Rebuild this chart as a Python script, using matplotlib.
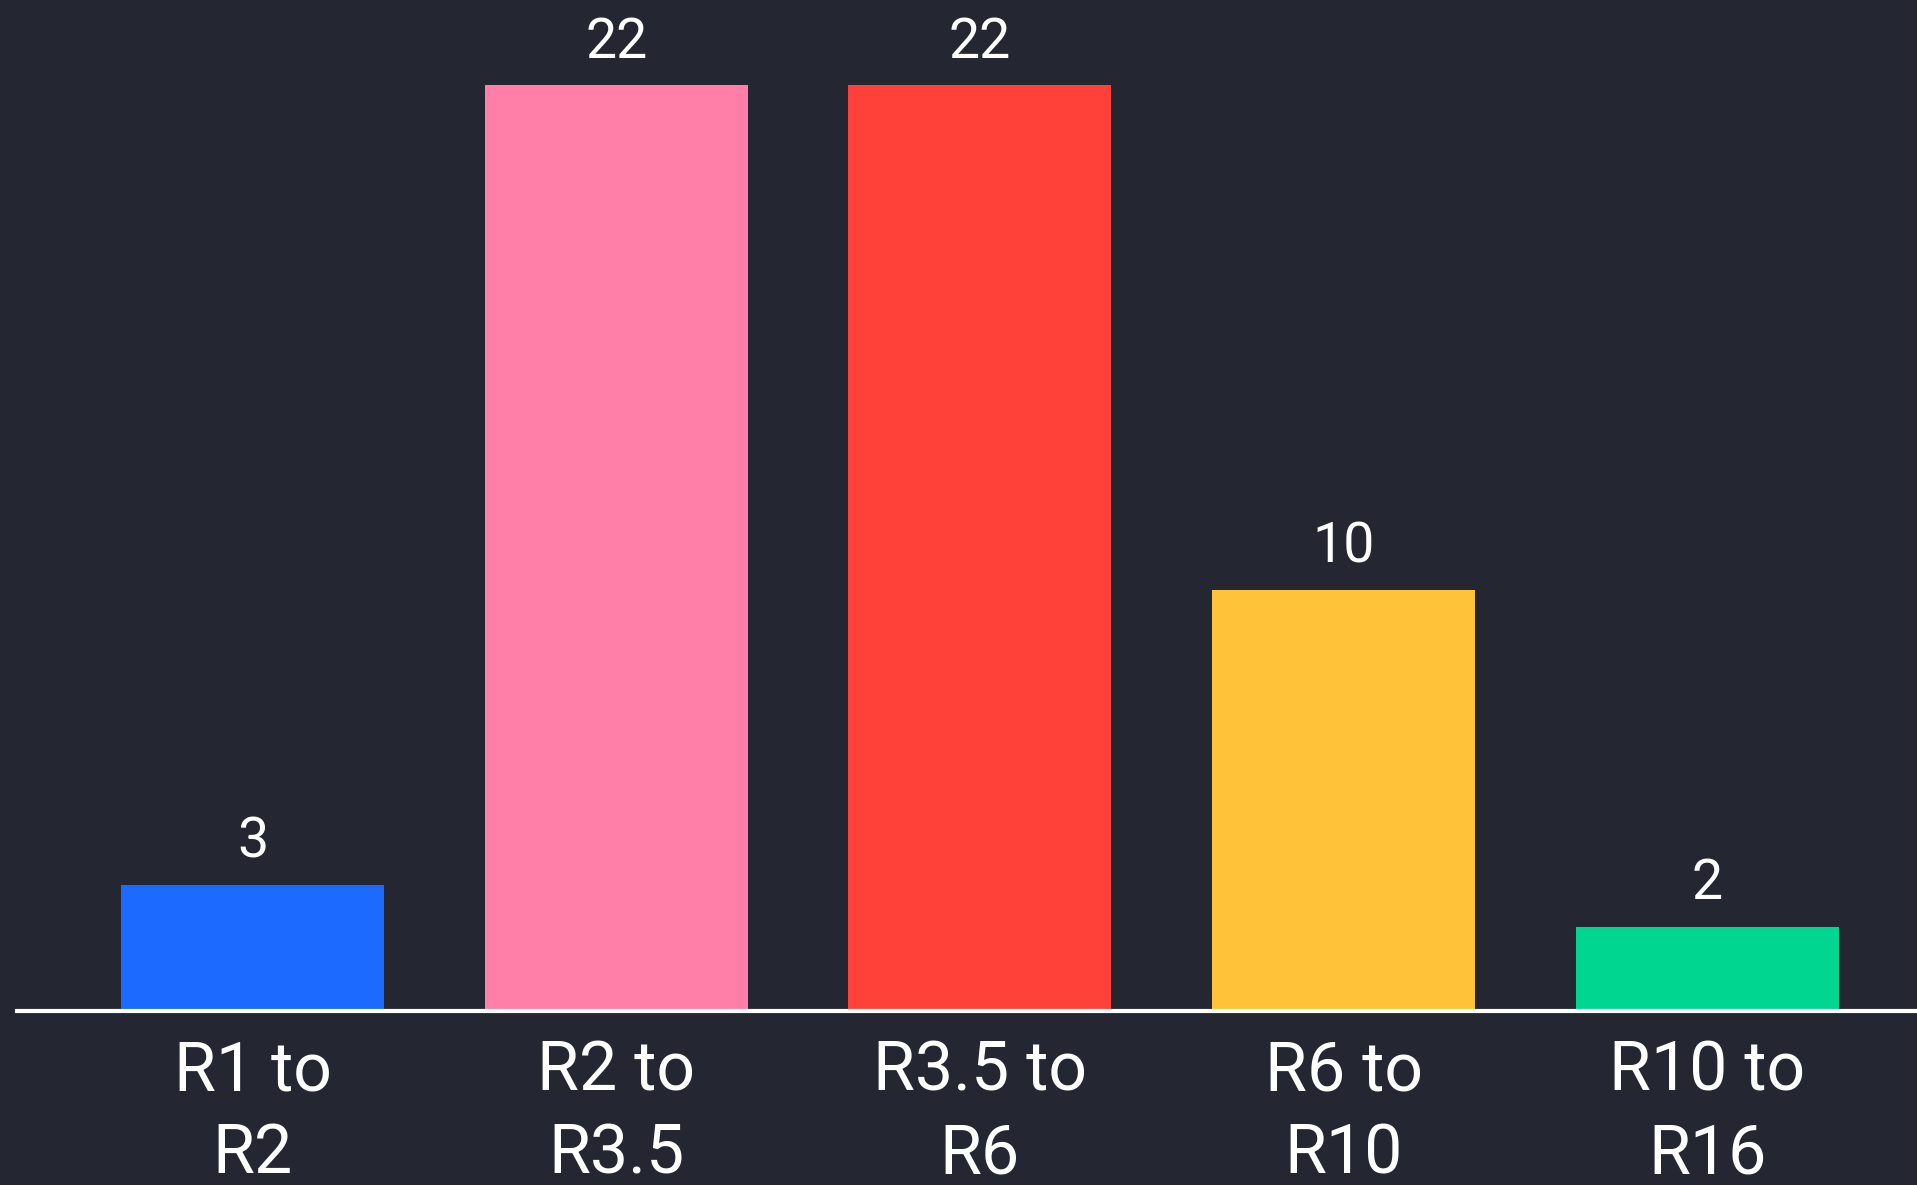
import matplotlib.pyplot as plt

# Bar chart data
categories = ['R1 to\nR2', 'R2 to\nR3.5', 'R3.5 to\nR6', 'R6 to\nR10', 'R10 to\nR16']
counts = [3, 22, 22, 10, 2]
colors = ['#1C6AFF', '#FF7FA8', '#FF413A', '#FFC239', '#00D68F']

bg = '#242731'
plt.rcParams['font.family'] = ['Roboto', 'DejaVu Sans']

fig = plt.figure(figsize=(19.17, 11.85), dpi=100, facecolor=bg)
ax = fig.add_axes([0.0089, 0.1468, 0.9911, 0.8532])
ax.set_facecolor(bg)

x = range(len(categories))
bars = ax.bar(x, counts, width=0.723, color=colors)

for xi, v in zip(x, counts):
    ax.annotate(str(v), (xi, v), xytext=(0, 12), textcoords='offset points',
                ha='center', va='bottom', color='white', fontsize=40)

ax.set_xlim(-0.6475, 4.577)
ax.set_ylim(0, 24.03)
ax.set_xticks(list(x))
ax.set_xticklabels(categories, fontsize=49, color='white', linespacing=1.32)
ax.tick_params(axis='x', length=0, pad=20)
ax.set_yticks([])
for s in ['top', 'right', 'left']:
    ax.spines[s].set_visible(False)
ax.spines['bottom'].set_color('white')
ax.spines['bottom'].set_linewidth(3)

fig.savefig('out.png', facecolor=bg)
plt.close(fig)
